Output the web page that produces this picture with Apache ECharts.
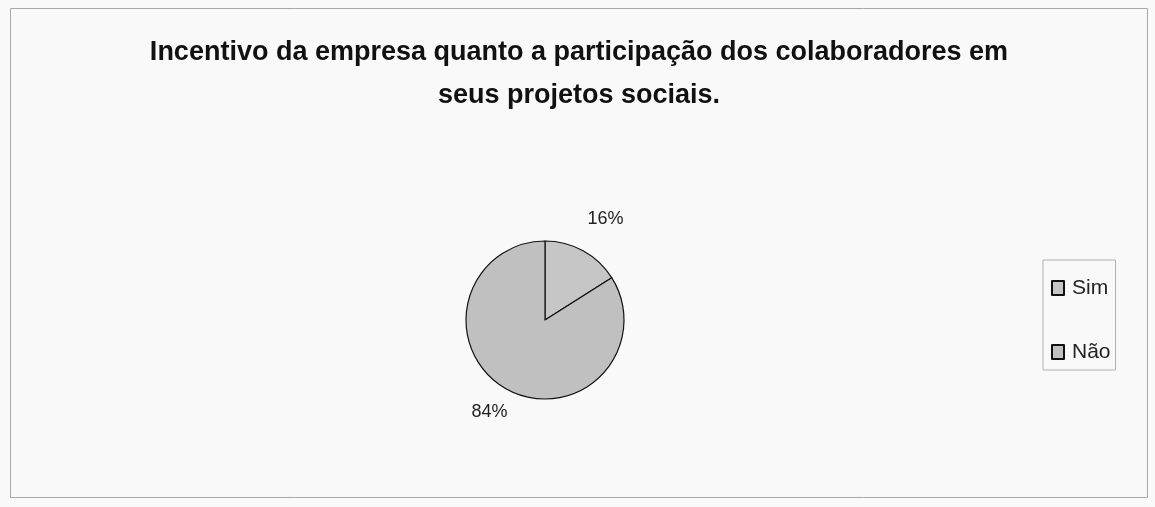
<!DOCTYPE html>
<html>
<head>
<meta charset="utf-8">
<script src="https://cdn.jsdelivr.net/npm/echarts@6/dist/echarts.min.js"></script>
<style>
html,body{margin:0;padding:0;background:#f9f9f9;}
#chart{width:1155px;height:507px;}
</style>
</head>
<body>
<div id="chart"></div>
<script>
const titleText = 'Incentivo da empresa quanto a participação dos colaboradores em\nseus projetos sociais.';
const categories = ['Sim', 'Não'];
const values = [16, 84];
const sliceColors = ['#c6c6c6', '#c0c0c0'];
const labelGaps = [36, 26];

const chart = echarts.init(document.getElementById('chart'), null, {renderer: 'canvas'});
const font = '"Liberation Sans", Arial, sans-serif';

chart.setOption({
  backgroundColor: '#f9f9f9',
  animation: false,
  title: {
    text: titleText,
    left: 574,
    top: 26,
    textAlign: 'center',
    textStyle: {
      fontFamily: font,
      fontWeight: 'bold',
      fontSize: 27,
      lineHeight: 43,
      color: '#111'
    }
  },
  graphic: [{
    type: 'rect',
    shape: {x: 10.5, y: 8.5, width: 1137, height: 489},
    style: {fill: 'none', stroke: '#a8a8a8', lineWidth: 1},
    silent: true,
    z: -1
  }],
  legend: {
    orient: 'vertical',
    left: 1043,
    top: 260,
    padding: [17, 5, 7, 8],
    borderColor: '#b0b0b0',
    borderWidth: 1,
    icon: 'rect',
    itemWidth: 12,
    itemHeight: 14,
    itemGap: 42,
    data: categories,
    textStyle: {fontFamily: font, fontSize: 21, lineHeight: 22, color: '#222', padding: [0, 0, 0, 3]}
  },
  series: [{
    type: 'pie',
    center: [545, 320],
    radius: 79,
    startAngle: 90,
    clockwise: true,
    data: categories.map((c, i) => ({
      name: c,
      value: values[i],
      itemStyle: {color: sliceColors[i]},
      labelLine: {show: false, length: labelGaps[i], length2: 0}
    })),
    itemStyle: {borderColor: '#111', borderWidth: 1.2},
    label: {
      show: true,
      position: 'outside',
      formatter: p => p.value + '%',
      fontFamily: font,
      fontSize: 18,
      color: '#222'
    },
    labelLine: {show: false, length: 35, length2: 0},
    labelLayout: function (p) {
      const w = p.labelRect.width;
      return {dx: p.align === 'right' ? w / 2 : -w / 2};
    },
    emphasis: {disabled: true}
  }]
});
</script>
</body>
</html>
